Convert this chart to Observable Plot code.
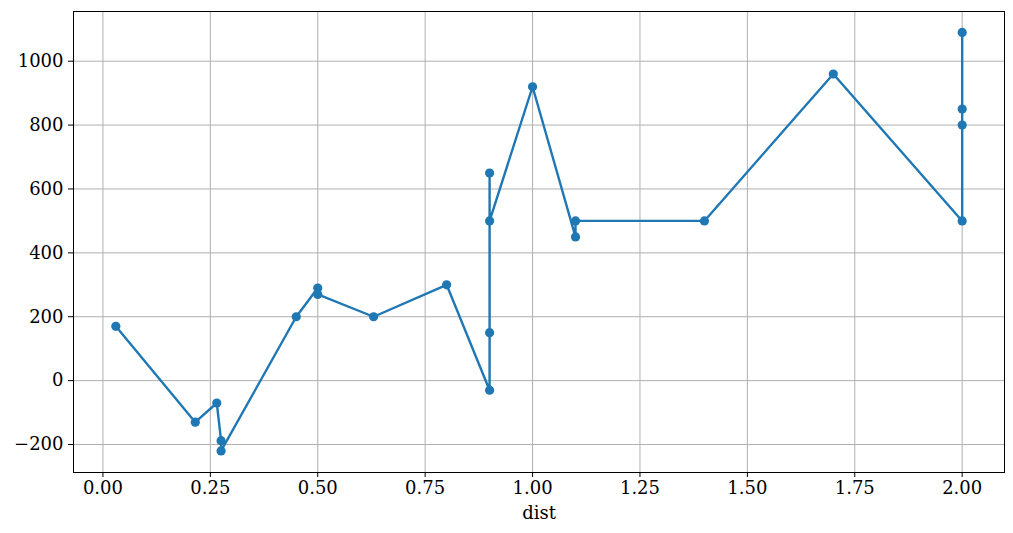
<!DOCTYPE html>
<html>
<head>
<meta charset="utf-8">
<script src="https://cdn.jsdelivr.net/npm/d3@7"></script>
<script src="https://cdn.jsdelivr.net/npm/@observablehq/plot@0.6"></script>
<style>
  html, body { margin: 0; padding: 0; background: white; }
</style>
</head>
<body>
<div id="chart"></div>
<script>
const dist  = [0.03, 0.215, 0.265, 0.275, 0.275, 0.45, 0.5, 0.5, 0.63, 0.8, 0.9, 0.9, 0.9, 0.9, 1.0, 1.1, 1.1, 1.4, 1.7, 2.0, 2.0, 2.0, 2.0];
const value = [170, -130, -70, -188, -220, 200, 290, 270, 200, 300, -30, 650, 150, 500, 920, 450, 500, 500, 960, 500, 800, 850, 1090];
const xTicks = [0, 0.25, 0.5, 0.75, 1.0, 1.25, 1.5, 1.75, 2.0];
const yTicks = [-200, 0, 200, 400, 600, 800, 1000];

const data = dist.map((d, i) => ({dist: d, value: value[i]}));

const color = "#1f77b4";
const chart = Plot.plot({
  width: 1013,
  height: 533,
  marginLeft: 73,
  marginRight: 9,
  marginTop: 11,
  marginBottom: 61,
  style: {fontFamily: "DejaVu Serif", fontSize: "18px", background: "white", color: "black"},
  x: {domain: [-0.0685, 2.0985]},
  y: {domain: [-287.6, 1155.6]},
  marks: [
    Plot.gridX(xTicks, {stroke: "#b0b0b0", strokeOpacity: 1, strokeWidth: 1}),
    Plot.gridY(yTicks, {stroke: "#b0b0b0", strokeOpacity: 1, strokeWidth: 1}),
    Plot.line(data, {x: "dist", y: "value", stroke: color, strokeWidth: 2.4, curve: "linear"}),
    Plot.dot(data, {x: "dist", y: "value", fill: color, r: 4.6, stroke: "none"}),
    Plot.frame({stroke: "black", strokeWidth: 1}),
    Plot.axisX(xTicks, {tickFormat: d3.format(".2f"), tickSize: 5, tickPadding: 4, label: "dist", labelAnchor: "center", labelArrow: "none", labelOffset: 46, fontSize: 18}),
    Plot.axisY(yTicks, {tickFormat: d => d < 0 ? "\u2212" + Math.abs(d) : String(d), tickSize: 5, tickPadding: 5, label: null, fontSize: 18})
  ]
});
document.getElementById("chart").appendChild(chart);
</script>
</body>
</html>
